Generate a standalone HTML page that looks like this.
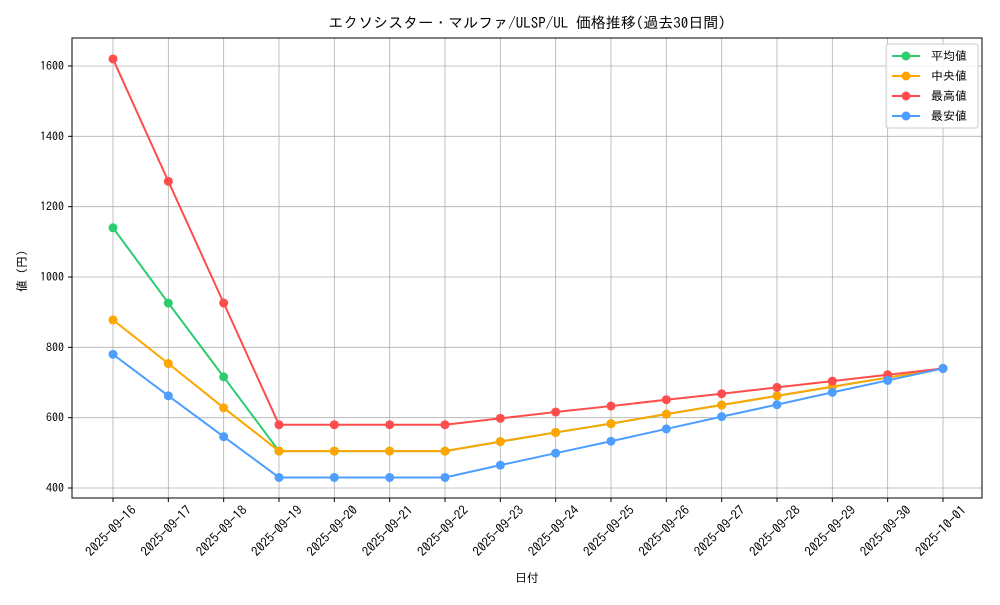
<!DOCTYPE html>
<html><head><meta charset="utf-8"><style>
body{margin:0;background:#fff}
svg text{font-family:"IPAGothic","Liberation Sans",sans-serif;fill:#000}
</style></head><body>
<svg id="s" width="1000" height="600" xmlns="http://www.w3.org/2000/svg"></svg>
<script>
const s=document.getElementById('s');
let h='';
const X0=113,DX=55.333;
const y=v=>488-(v-400)*0.35167;
const dates=['09-16','09-17','09-18','09-19','09-20','09-21','09-22','09-23','09-24','09-25','09-26','09-27','09-28','09-29','09-30','10-01'];
h+='<rect x="0" y="0" width="1000" height="600" fill="#fff"/>';
for(let i=0;i<16;i++){const x=X0+i*DX;h+=`<line x1="${x}" y1="38" x2="${x}" y2="498" stroke="#b0b0b0" stroke-width="0.8"/>`;}
for(let v=400;v<=1600;v+=200){h+=`<line x1="72" y1="${y(v)}" x2="982" y2="${y(v)}" stroke="#b0b0b0" stroke-width="0.8"/>`;}
const series=[
 ['#2ecc71',[1140,926,716,505,505,505,505,532,558,583,610,636,662,688,714,740]],
 ['#ffa500',[878,754,628,505,505,505,505,532,558,583,610,636,662,688,714,740]],
 ['#ff4d4d',[1620,1272,926,580,580,580,580,598,616,633,651,668,686,704,722,740]],
 ['#4d9eff',[780,662,546,430,430,430,430,465,499,533,568,603,637,672,706,740]]];
for(const [c,d] of series){
 h+=`<polyline fill="none" stroke="${c}" stroke-width="2" points="${d.map((v,i)=>(X0+i*DX)+','+y(v)).join(' ')}"/>`;
 d.forEach((v,i)=>h+=`<circle cx="${X0+i*DX}" cy="${y(v)}" r="4.5" fill="${c}"/>`);
}
h+='<rect x="72" y="38" width="910" height="460" fill="none" stroke="#000" stroke-width="1"/>';
for(let v=400;v<=1600;v+=200){h+=`<line x1="68" y1="${y(v)}" x2="72" y2="${y(v)}" stroke="#000"/><text x="64" y="${y(v)+4}" font-size="12" text-anchor="end">${v}</text>`;}
for(let i=0;i<16;i++){const x=X0+i*DX;h+=`<line x1="${x}" y1="498" x2="${x}" y2="502" stroke="#000"/><text font-size="13" text-anchor="end" transform="translate(${x+24},${511}) rotate(-45)">2025-${dates[i]}</text>`;}
h+='<text x="527" y="582" font-size="12" text-anchor="middle">日付</text>';
h+='<text font-size="12" text-anchor="middle" transform="translate(26,268) rotate(-90)">値（円）</text>';
h+='<text x="527" y="28" font-size="15" text-anchor="middle">エクソシスター・マルファ/ULSP/UL 価格推移(過去30日間)</text>';
h+='<rect x="886" y="44" width="92" height="84" fill="#fff" fill-opacity="0.8" stroke="#ccc" rx="2"/>';
const names=['平均値','中央値','最高値','最安値'];
series.forEach(([c],i)=>{const yy=56+i*20;h+=`<line x1="892" y1="${yy}" x2="920" y2="${yy}" stroke="${c}" stroke-width="2"/><circle cx="906" cy="${yy}" r="4.5" fill="${c}"/><text x="931" y="${yy+4}" font-size="12">${names[i]}</text>`;});
s.innerHTML=h;
</script>
</body></html>
